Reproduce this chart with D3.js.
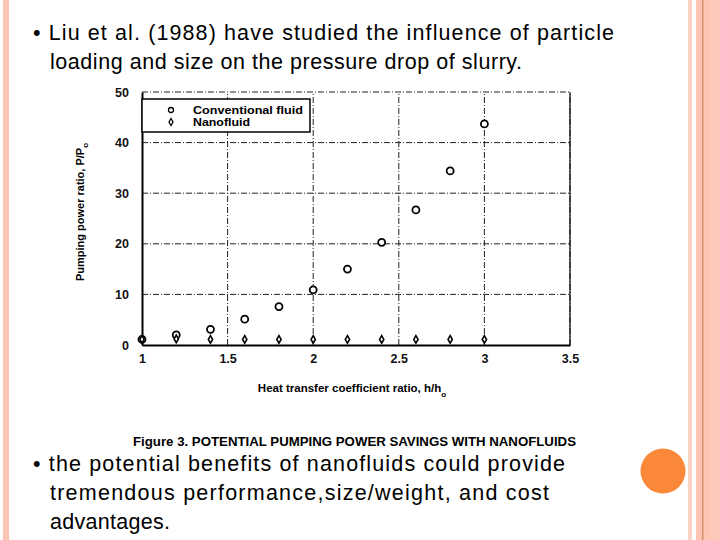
<!DOCTYPE html>
<html>
<head>
<meta charset="utf-8">
<script src="https://cdn.jsdelivr.net/npm/d3@7"></script>
<style>
  body { margin: 0; background: #fff; }
  svg { display: block; }
</style>
</head>
<body>
<svg id="slide" width="720" height="540"></svg>
<script>
var ratios = [1, 1.2, 1.4, 1.6, 1.8, 2, 2.2, 2.4, 2.6, 2.8, 3];
var conventional = [1.1, 2.0, 3.1, 5.1, 7.6, 10.9, 15.0, 20.3, 26.7, 34.4, 43.7];
var nanofluid = [1.1, 1.2, 1.1, 1.1, 1.1, 1.1, 1.1, 1.1, 1.1, 1.1, 1.1];
var xTicks = [1, 1.5, 2, 2.5, 3, 3.5];
var yTicks = [0, 10, 20, 30, 40, 50];

var svg = d3.select('#slide');

// slide decoration
svg.append('rect').attr('x', 3).attr('y', 0).attr('width', 6).attr('height', 540).attr('fill', '#f8c6b2');
svg.append('rect').attr('x', 688).attr('y', 0).attr('width', 4).attr('height', 540).attr('fill', '#f9d2c2');
svg.append('rect').attr('x', 696).attr('y', 0).attr('width', 24).attr('height', 540).attr('fill', '#fcc6b2');
svg.append('rect').attr('x', 702).attr('y', 0).attr('width', 1.5).attr('height', 540).attr('fill', '#d9906c');
svg.append('rect').attr('x', 710).attr('y', 0).attr('width', 10).attr('height', 540).attr('fill', '#fdcabb');
svg.append('circle').attr('cx', 663).attr('cy', 471).attr('r', 22.5).attr('fill', '#fb8838');

var bullet = svg.append('g')
  .style('font-family', 'Liberation Sans, Arial, sans-serif')
  .style('font-size', '21.5px')
  .attr('fill', '#000');
var lines = [
  {x: 33, y: 40, w: 581, t: '\u2022 Liu et al. (1988) have studied the influence of particle'},
  {x: 50, y: 69, w: 472, t: 'loading and size on the pressure drop of slurry.'},
  {x: 33, y: 471, w: 532, t: '\u2022 the potential benefits of nanofluids could provide'},
  {x: 50, y: 500, w: 499, t: 'tremendous performance,size/weight, and cost'},
  {x: 50, y: 529, w: 120, t: 'advantages.'}
];
bullet.selectAll('text').data(lines).enter().append('text')
  .attr('x', function(d) { return d.x; })
  .attr('y', function(d) { return d.y; })
  .attr('textLength', function(d) { return d.w; })
  .attr('lengthAdjust', 'spacing')
  .text(function(d) { return d.t; });

// chart
var x = d3.scaleLinear().domain([1, 3.5]).range([142, 570]);
var y = d3.scaleLinear().domain([0, 50]).range([345, 92]);

var chart = svg.append('g')
  .style('font-family', 'Liberation Sans, Arial, sans-serif')
  .style('font-weight', 'bold');

chart.append('g').selectAll('line').data(xTicks.slice(1)).enter().append('line')
  .attr('x1', function(d) { return x(d); }).attr('x2', function(d) { return x(d); })
  .attr('y1', y(0)).attr('y2', y(50))
  .attr('stroke', '#222').attr('stroke-width', 1).attr('stroke-dasharray', '6,2,1,2');
chart.append('g').selectAll('line').data(yTicks.slice(1)).enter().append('line')
  .attr('x1', x(1)).attr('x2', x(3.5))
  .attr('y1', function(d) { return y(d); }).attr('y2', function(d) { return y(d); })
  .attr('stroke', '#222').attr('stroke-width', 1).attr('stroke-dasharray', '6,2,1,2');

var xAxis = chart.append('g')
  .attr('transform', 'translate(0,' + y(0) + ')')
  .call(d3.axisBottom(x).tickValues(xTicks).tickSize(0).tickPadding(9)
    .tickFormat(function(d) { return d3.format('')(d); }));
var yAxis = chart.append('g')
  .attr('transform', 'translate(' + x(1) + ',0)')
  .call(d3.axisLeft(y).tickValues(yTicks).tickSize(0).tickPadding(13));
[xAxis, yAxis].forEach(function(a) {
  a.select('.domain').attr('stroke', '#000').attr('stroke-width', 2);
  a.selectAll('text').style('font-size', '12.5px').style('font-weight', 'bold')
    .style('font-family', 'Liberation Sans, Arial, sans-serif').attr('fill', '#111');
});
chart.append('line').attr('x1', x(3.5)).attr('x2', x(3.5)).attr('y1', y(50)).attr('y2', y(0))
  .attr('stroke', '#000').attr('stroke-width', 1.2);

// legend
chart.append('rect').attr('x', 142).attr('y', 99).attr('width', 168).attr('height', 33)
  .attr('fill', '#fff').attr('stroke', '#000').attr('stroke-width', 1.5);
chart.append('circle').attr('cx', 171).attr('cy', 110).attr('r', 2.5)
  .attr('fill', '#fff').attr('stroke', '#000').attr('stroke-width', 1.3);
chart.append('path').attr('d', d3.symbol().type(d3.symbolDiamond).size(14)())
  .attr('transform', 'translate(171,122)')
  .attr('fill', '#fff').attr('stroke', '#000').attr('stroke-width', 1.3);
chart.append('text').attr('x', 193).attr('y', 113.5).style('font-size', '11px')
  .attr('textLength', 110).attr('lengthAdjust', 'spacingAndGlyphs').text('Conventional fluid');
chart.append('text').attr('x', 193).attr('y', 126).style('font-size', '11px')
  .attr('textLength', 57).attr('lengthAdjust', 'spacingAndGlyphs').text('Nanofluid');

// data marks
chart.append('g').selectAll('circle').data(ratios).enter().append('circle')
  .attr('cx', function(d) { return x(d); })
  .attr('cy', function(d, i) { return y(conventional[i]); })
  .attr('r', 3.5)
  .attr('fill', '#fff').attr('stroke', '#000').attr('stroke-width', 1.8);
chart.append('g').selectAll('path').data(ratios).enter().append('path')
  .attr('d', d3.symbol().type(d3.symbolDiamond).size(16)())
  .attr('transform', function(d, i) { return 'translate(' + x(d) + ',' + y(nanofluid[i]) + ')'; })
  .attr('fill', '#fff').attr('stroke', '#000').attr('stroke-width', 1.6);

// axis titles
var yt = chart.append('text')
  .attr('transform', 'translate(84,212) rotate(-90)')
  .attr('text-anchor', 'middle').style('font-size', '11px');
yt.append('tspan').text('Pumping power ratio, P/P');
yt.append('tspan').attr('dy', 4).style('font-size', '8px').text('o');

var xt = chart.append('text').attr('x', 352).attr('y', 392)
  .attr('text-anchor', 'middle').style('font-size', '11.5px');
xt.append('tspan').text('Heat transfer coefficient ratio, h/h');
xt.append('tspan').attr('dy', 5).style('font-size', '8px').text('o');

chart.append('text').attr('x', 133).attr('y', 446)
  .style('font-size', '12px').attr('textLength', 443).attr('lengthAdjust', 'spacingAndGlyphs')
  .text('Figure 3. POTENTIAL PUMPING POWER SAVINGS WITH NANOFLUIDS');
</script>
</body>
</html>
